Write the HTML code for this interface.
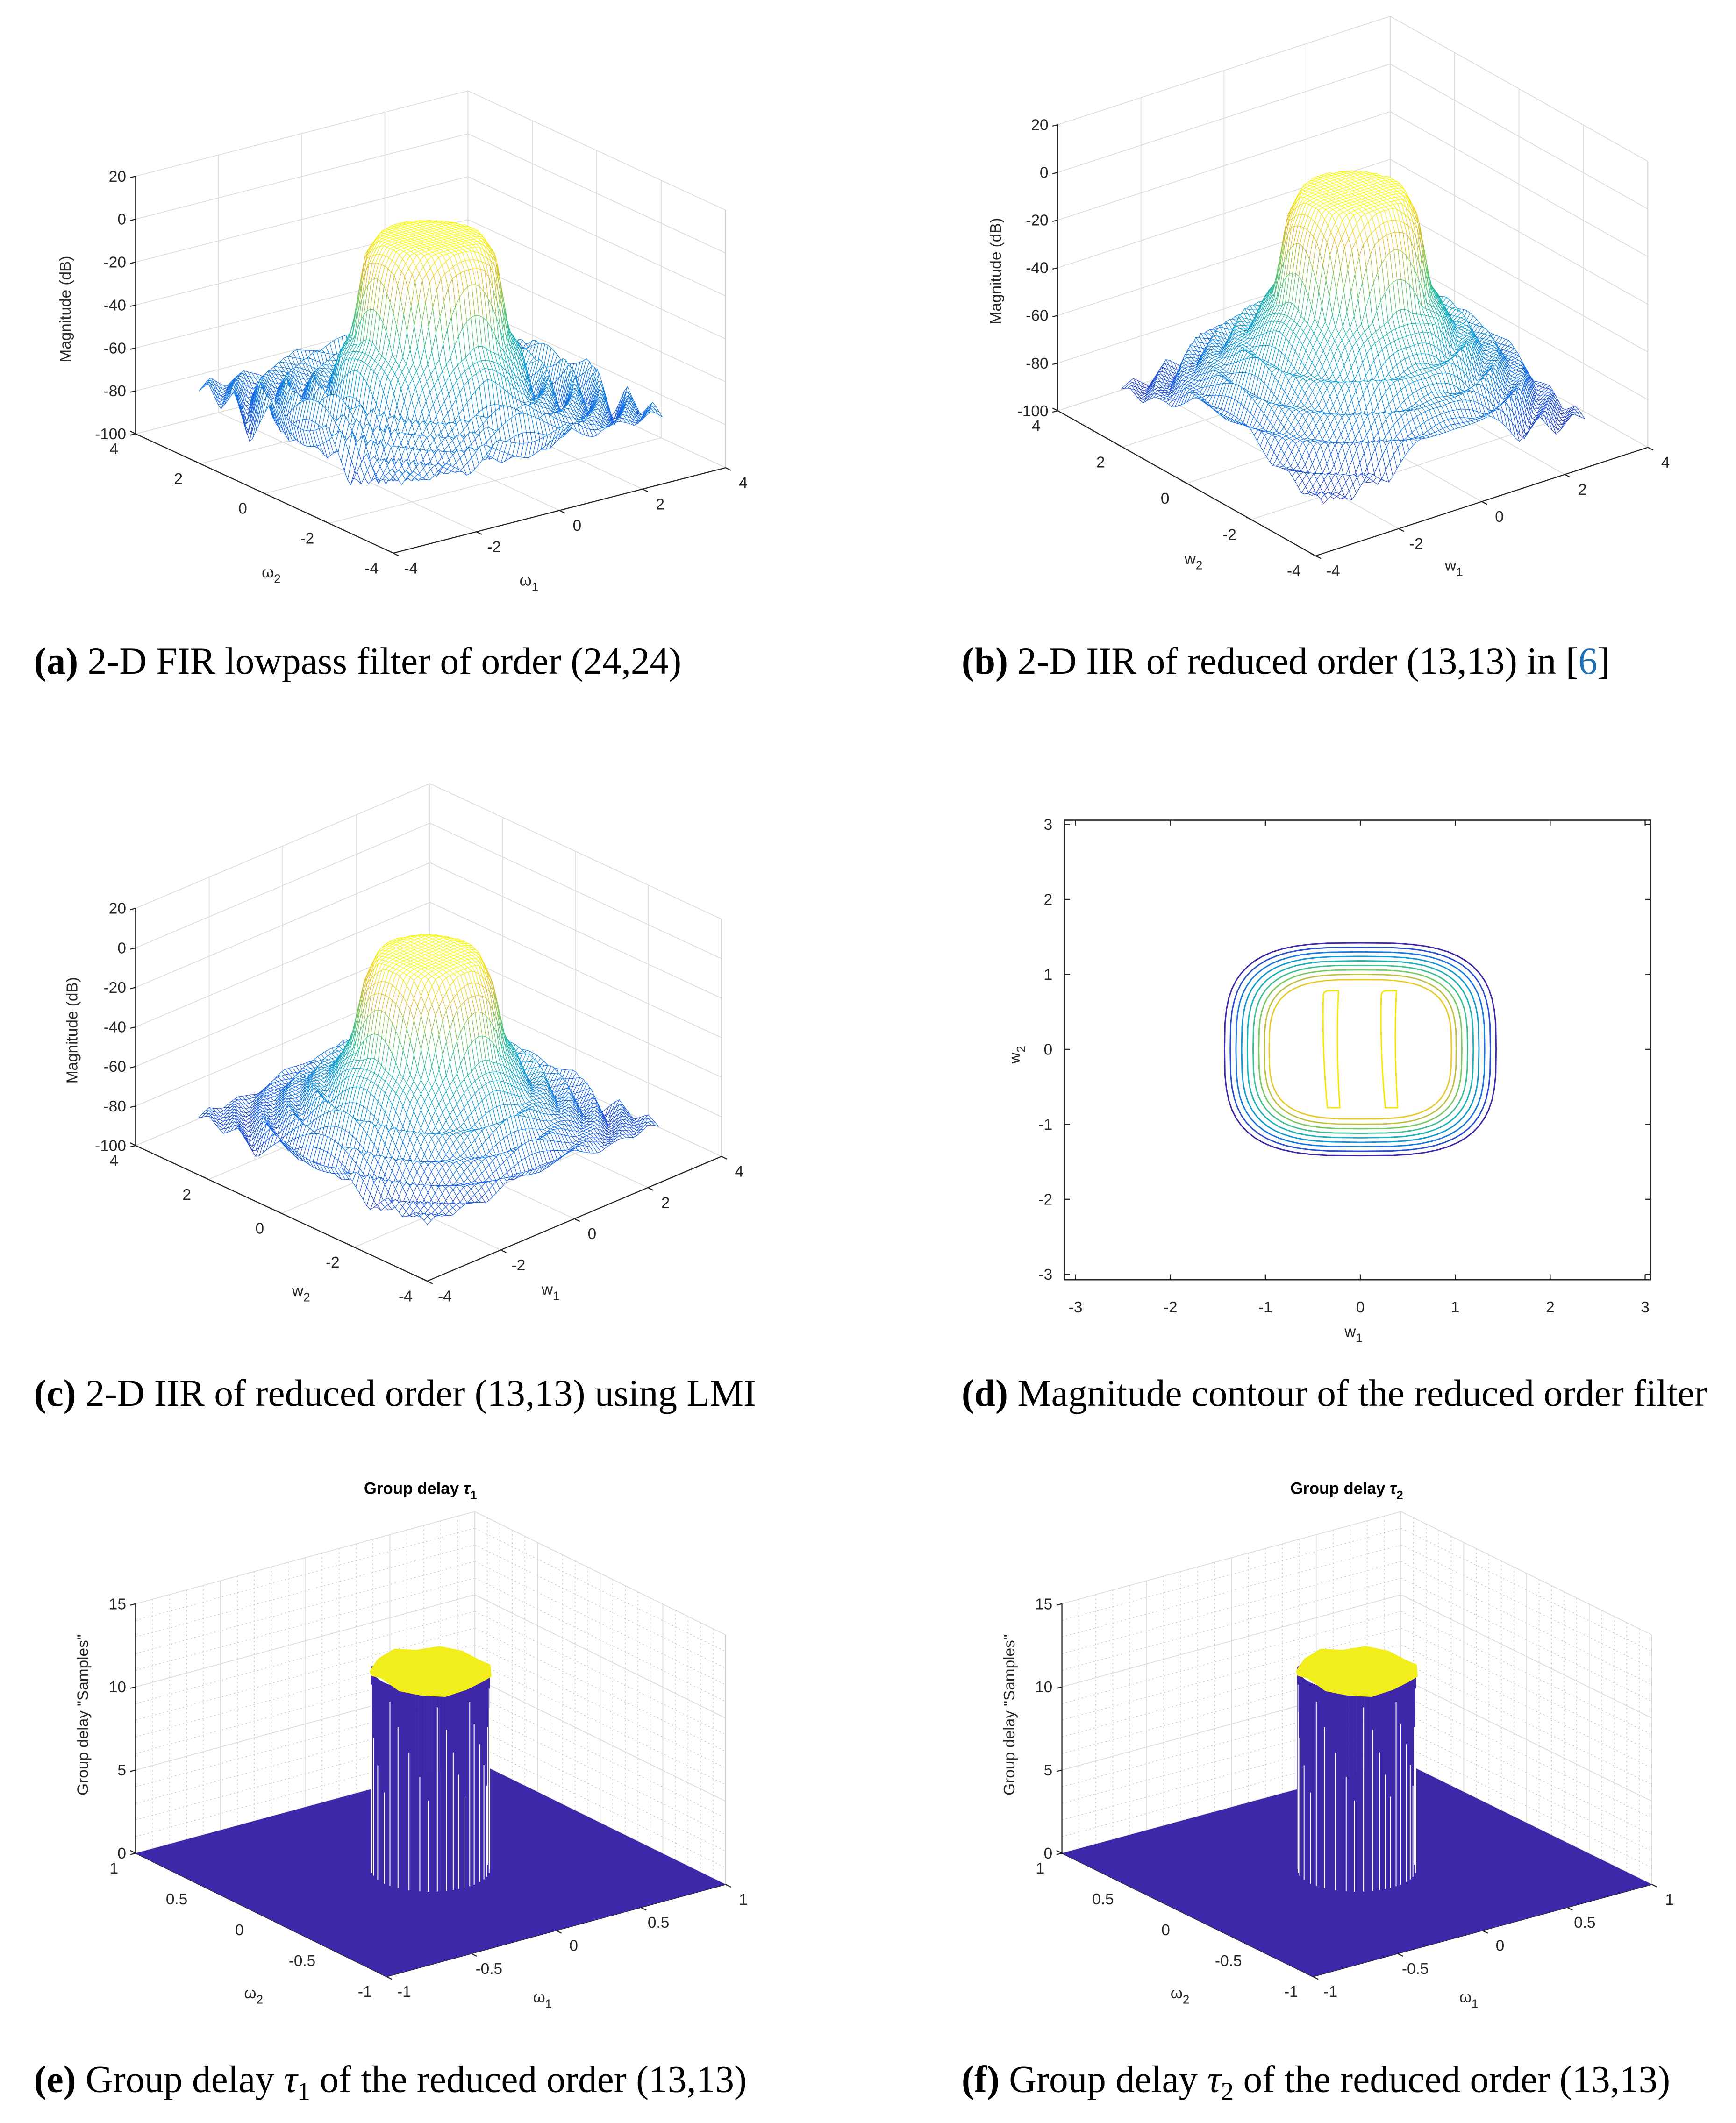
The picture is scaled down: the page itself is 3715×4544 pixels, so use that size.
<!DOCTYPE html>
<html><head><meta charset="utf-8">
<style>
html,body{margin:0;padding:0;background:#fff;}
svg{display:block;}
.tk{font-family:"Liberation Sans",sans-serif;font-size:11.5px;fill:#262626;}
.cap{font-family:"Liberation Serif",serif;font-size:28px;fill:#000;}
</style></head>
<body>
<svg id="fig" xmlns="http://www.w3.org/2000/svg" width="3715" height="4544" viewBox="0 0 1280 1566" preserveAspectRatio="none">
<rect x="0" y="0" width="1280" height="1566" fill="#fff"/>
<text class="cap" x="25" y="497"><tspan font-weight="bold">(a)</tspan> 2-D FIR lowpass filter of order (24,24)</text>
<text class="cap" x="709" y="497"><tspan font-weight="bold">(b)</tspan> 2-D IIR of reduced order (13,13) in [<tspan fill="#1f6fb5">6</tspan>]</text>
<text class="cap" x="25" y="1037"><tspan font-weight="bold">(c)</tspan> 2-D IIR of reduced order (13,13) using LMI</text>
<text class="cap" x="709" y="1037"><tspan font-weight="bold">(d)</tspan>  Magnitude contour of the reduced order filter</text>
<text class="cap" x="25" y="1543"><tspan font-weight="bold">(e)</tspan> Group delay <tspan font-style="italic">τ</tspan><tspan font-size="19" dy="6">1</tspan><tspan dy="-6"> of the reduced order (13,13)</tspan></text>
<text class="cap" x="709" y="1543"><tspan font-weight="bold">(f)</tspan>  Group delay <tspan font-style="italic">τ</tspan><tspan font-size="19" dy="6">2</tspan><tspan dy="-6"> of the reduced order (13,13)</tspan></text>
</svg>
<script>
// ---------- data ----------
const radialStep = 0.25;
const profileA = [0,0,0,0,-1,-10,-45,-62,-68,-70,-72,-72,-74,-75,-75,-76,-76,-76,-76];
const rippleRadA = [0,0,0,0,0,0,0,10,-14,8,-18,9,-12,10,-20,7,-10,6,-8];
const rippleAngA = [1,0.4,-0.6,0.9,-1,0.5,0.8,-0.7,1,0.3,-0.8,0.6];
const profileB = [0,0,0,0,-1,-12,-42,-52,-58,-62,-66,-70,-74,-78,-82,-85,-88,-88,-88];
const rippleRadB = [0,0,0,0,0,0,0,4,-6,5,-8,4,-6,5,-10,3,-6,3,-4];
const rippleAngB = [1,-0.6,0.7,-1,0.9,-0.5,1,-0.7,0.8,-1,0.6,-0.8];
const profileC = [0,0,0,0,-2,-16,-45,-58,-64,-68,-72,-76,-80,-82,-84,-84,-84,-84,-84];
const rippleRadC = [0,0,0,0,0,0,0,5,-8,6,-9,5,-7,6,-10,4,-6,4,-5];
const rippleAngC = [1,0.5,-0.7,0.8,-1,0.6,0.9,-0.6,1,0.4,-0.9,0.5];
const zTicksMag = [20,0,-20,-40,-60,-80,-100];
const wTicksMag = [-4,-2,0,2,4];
const zTicksGD = [0,5,10,15];
const wTicksGD = [-1,-0.5,0,0.5,1];
const gdHeight = 12;
const gdRadius = 0.28;
const gdTopJitter = [0.3,0.5,0.6,0.4,0.7,0.5,0.3,0.6,0.9,0.5,0.4,0.3,0.5,0.6,0.4,0.5];
const gdStripeAngles = [140,150,158,170,182,190,200,212,223,231,240,249,256,262,268,275,281,290,298,305,316,327,338];
const contourA = [1.43,1.37,1.31,1.25,1.19,1.13,1.07,1.01,0.96];
const contourB = [1.42,1.36,1.30,1.24,1.18,1.12,1.06,1.00,0.93];
const contourLevels = [0.0,0.12,0.25,0.37,0.5,0.6,0.7,0.8,0.88];
const innerLobesX = [-0.33,0.28];
const innerLobeHalfH = 0.78;
const contourTicks = [-3,-2,-1,0,1,2,3];

// ---------- helpers ----------
const NS='http://www.w3.org/2000/svg';
const svg=document.getElementById('fig');
function mk(tag,parent){const e=document.createElementNS(NS,tag);(parent||svg).appendChild(e);return e;}
const parStops=[[0,[62,38,168]],[0.2,[25,105,230]],[0.4,[18,160,210]],[0.55,[35,185,170]],[0.7,[120,200,100]],[0.85,[225,188,50]],[1,[249,251,14]]];
function parula(t){t=Math.max(0,Math.min(1,t));for(let i=1;i<parStops.length;i++){if(t<=parStops[i][0]){const a=parStops[i-1],b=parStops[i];const f=(t-a[0])/(b[0]-a[0]);return 'rgb('+a[1].map((v,k)=>Math.round(v+f*(b[1][k]-v))).join(',')+')';}}return 'rgb(249,251,14)';}
function mkProj(P){return (w1,w2,z)=>{const u=(w1-P.wmin)/(P.wmax-P.wmin),v=(w2-P.wmin)/(P.wmax-P.wmin),h=(z-P.zmin)/(P.zmax-P.zmin);return [P.F[0]+u*(P.R[0]-P.F[0])+v*(P.L[0]-P.F[0]),P.F[1]+u*(P.R[1]-P.F[1])+v*(P.L[1]-P.F[1])-h*P.zh];};}
function line(g,a,b,stroke,sw,dash){const l=mk('line',g);l.setAttribute('x1',a[0]);l.setAttribute('y1',a[1]);l.setAttribute('x2',b[0]);l.setAttribute('y2',b[1]);l.setAttribute('stroke',stroke);l.setAttribute('stroke-width',sw);if(dash)l.setAttribute('stroke-dasharray',dash);return l;}
function txt(g,x,y,s,anchor){const t=mk('text',g);t.setAttribute('class','tk');t.setAttribute('x',x);t.setAttribute('y',y);t.setAttribute('text-anchor',anchor||'middle');t.textContent=s;return t;}
function subLabel(g,x,y,base,sub,rot){const t=mk('text',g);t.setAttribute('class','tk');t.setAttribute('x',x);t.setAttribute('y',y);t.setAttribute('text-anchor','middle');if(rot)t.setAttribute('transform','rotate(-90 '+x+' '+y+')');const a=mk('tspan',t);a.textContent=base;const b=mk('tspan',t);b.setAttribute('font-size','9');b.setAttribute('dy','4');b.textContent=sub;return t;}
function interp(arr,x){const k=Math.max(0,Math.min(arr.length-2,Math.floor(x)));const f=Math.max(0,Math.min(1,x-k));return arr[k]+f*(arr[k+1]-arr[k]);}

function axes3d(P,name,zt,wt,minor){
  const p=mkProj(P);const g=mk('g');
  
  
  const W=P.wmax,w0=P.wmin,Z=P.zmax,z0=P.zmin;
  const gc='#dcdcdc';
  if(minor){
    for(let w=w0;w<=W+1e-9;w+=minor.w){line(g,p(w,W,z0),p(w,W,Z),'#c8c8c8',0.5,'1 2');line(g,p(W,w,z0),p(W,w,Z),'#c8c8c8',0.5,'1 2');line(g,p(w,w0,z0),p(w,W,z0),'#c8c8c8',0.5,'1 2');line(g,p(w0,w,z0),p(W,w,z0),'#c8c8c8',0.5,'1 2');}
    for(let z=z0;z<=Z+1e-9;z+=minor.z){line(g,p(w0,W,z),p(W,W,z),'#c8c8c8',0.5,'1 2');line(g,p(W,W,z),p(W,w0,z),'#c8c8c8',0.5,'1 2');}
  }
  wt.forEach(w=>{line(g,p(w,W,z0),p(w,W,Z),gc,0.6);line(g,p(W,w,z0),p(W,w,Z),gc,0.6);line(g,p(w,w0,z0),p(w,W,z0),gc,0.6);line(g,p(w0,w,z0),p(W,w,z0),gc,0.6);});
  zt.forEach(z=>{line(g,p(w0,W,z),p(W,W,z),gc,0.6);line(g,p(W,W,z),p(W,w0,z),gc,0.6);});
  line(g,p(W,w0,z0),p(W,w0,Z),'#d0d0d0',0.6);
  line(g,p(w0,W,z0),p(w0,W,Z),'#262626',0.8);
  line(g,p(w0,W,z0),p(w0,w0,z0),'#262626',0.8);
  line(g,p(w0,w0,z0),p(W,w0,z0),'#262626',0.8);
  zt.forEach(z=>{const a=p(w0,W,z);line(g,a,[a[0]-4,a[1]+1],'#262626',0.8);txt(g,a[0]-7,a[1]+4,String(z),'end');});
  wt.forEach(w=>{const a=p(w0,w,z0);line(g,a,[a[0]-4,a[1]-2],'#262626',0.8);txt(g,a[0]-16,a[1]+15,String(w),'middle');
                 const b=p(w,w0,z0);line(g,b,[b[0]+4,b[1]+2],'#262626',0.8);txt(g,b[0]+13,b[1]+15,String(w),'middle');});
  return p;
}

function surface(P,name,profile,ripRad,ripAng,n){
  const p=mkProj(P);const g=mk('g');
  
  
  const L=Math.PI,N=n;const zs=[];
  for(let i=0;i<=N;i++){zs.push([]);for(let j=0;j<=N;j++){const w1=-L+2*L*i/N,w2=-L+2*L*j/N;const r=Math.hypot(w1,w2);
    let z=interp(profile,r/radialStep);
    const th=(Math.atan2(w2,w1)+Math.PI)/(2*Math.PI)*ripAng.length;
    const ang=interp(ripAng.concat([ripAng[0]]),th);
    z+=interp(ripRad,r/radialStep)*(0.55+0.45*ang);
    zs[i].push(Math.max(-100,Math.min(0,z)));}}
  const cells=[];for(let i=0;i<N;i++)for(let j=0;j<N;j++)cells.push([i,j]);
  cells.sort((a,b)=>(b[0]+b[1])-(a[0]+a[1]));
  cells.forEach(([i,j])=>{const w=k=>-L+2*L*k/N;const pts=[p(w(i),w(j),zs[i][j]),p(w(i+1),w(j),zs[i+1][j]),p(w(i+1),w(j+1),zs[i+1][j+1]),p(w(i),w(j+1),zs[i][j+1])];
    const zav=(zs[i][j]+zs[i+1][j]+zs[i+1][j+1]+zs[i][j+1])/4;
    const q=mk('polygon',g);
    
    
    q.setAttribute('points',pts.map(a=>a[0].toFixed(1)+','+a[1].toFixed(1)).join(' '));q.setAttribute('fill','#fff');q.setAttribute('stroke',parula((zav+100)/100));q.setAttribute('stroke-width','0.4');});
}

// ---------- panels a,b,c ----------
const PA={F:[290,408],R:[535,345],L:[100,320],zh:190,zmin:-100,zmax:20,wmin:-4,wmax:4};
const PB={F:[970,410],R:[1215,330],L:[780,303],zh:211,zmin:-100,zmax:20,wmin:-4,wmax:4};
const PC={F:[315,945],R:[532,853],L:[100,845],zh:175,zmin:-100,zmax:20,wmin:-4,wmax:4};
axes3d(PA,'panel-a',zTicksMag,wTicksMag);surface(PA,'panel-a',profileA,rippleRadA,rippleAngA,64);
axes3d(PB,'panel-b',zTicksMag,wTicksMag);surface(PB,'panel-b',profileB,rippleRadB,rippleAngB,64);
axes3d(PC,'panel-c',zTicksMag,wTicksMag);surface(PC,'panel-c',profileC,rippleRadC,rippleAngC,64);
const magLabels=[[52,228,'ω',200,426,390,432],[738,200,'w',880,416,1072,421],[57,760,'w',222,956,406,955]];
magLabels.forEach(c=>{
  const t=mk('text');t.setAttribute('class','tk');t.setAttribute('x',c[0]);t.setAttribute('y',c[1]);t.setAttribute('text-anchor','middle');t.setAttribute('transform','rotate(-90 '+c[0]+' '+c[1]+')');t.textContent='Magnitude (dB)';
  
  
  const a=subLabel(svg,c[3],c[4],c[2],'2');
  
  
  const b=subLabel(svg,c[5],c[6],c[2],'1');
  
  
});

// ---------- panel d contour ----------
(function(){
  const g=mk('g');
  
  
  const X=w=>1003+w*70,Y=w=>774-w*55.3;
  const r=mk('rect',g);r.setAttribute('x',785);r.setAttribute('y',605);r.setAttribute('width',432);r.setAttribute('height',339);r.setAttribute('fill','none');r.setAttribute('stroke','#262626');r.setAttribute('stroke-width','0.9');
  
  
  contourTicks.forEach(v=>{line(g,[X(v),944],[X(v),940],'#262626',0.8);line(g,[X(v),605],[X(v),609],'#262626',0.8);txt(g,X(v),968,String(v));
    line(g,[785,Y(v)],[789,Y(v)],'#262626',0.8);line(g,[1217,Y(v)],[1213,Y(v)],'#262626',0.8);txt(g,776,Y(v)+4,String(v),'end');});
  contourA.forEach((a,k)=>{const b=contourB[k];
    const pts=[];for(let d=0;d<360;d+=6){const t=d*Math.PI/180;const c=Math.cos(t),s=Math.sin(t);const e=2/3.2;pts.push([a*Math.sign(c)*Math.pow(Math.abs(c),e),b*Math.sign(s)*Math.pow(Math.abs(s),e)]);}
    const pl=mk('polygon',g);
    
    
    pl.setAttribute('points',pts.map(q=>X(q[0]).toFixed(1)+','+Y(q[1]).toFixed(1)).join(' '));pl.setAttribute('fill','none');pl.setAttribute('stroke',parula(contourLevels[k]));pl.setAttribute('stroke-width','1');});
  innerLobesX.forEach(x=>{const pl=mk('path',g);
    
    
    const x0=X(x-0.06),x1=X(x+0.1),yt=Y(innerLobeHalfH),yb=Y(-innerLobeHalfH);
    pl.setAttribute('d','M'+x0+' '+(yt+4)+' Q'+x0+' '+yt+' '+(x0+4)+' '+yt+' L'+x1+' '+yt+' Q'+(x1-2)+' '+774+' '+(x1+1)+' '+yb+' L'+(x0+3)+' '+yb+' Q'+(x0-1)+' '+774+' '+x0+' '+(yt+4)+'Z');
    pl.setAttribute('fill','none');pl.setAttribute('stroke','#f5e60c');pl.setAttribute('stroke-width','1');});
  const a=subLabel(g,752,778,'w','2',true);
  
  
  const b=subLabel(g,998,986,'w','1');
  
  
})();

// ---------- panels e,f group delay ----------
function gdPanel(dx,name,sub){
  const P={F:[285+dx,1458],R:[535+dx,1390],L:[100+dx,1367],zh:184,zmin:0,zmax:15,wmin:-1,wmax:1};
  const p=axes3d(P,name,zTicksGD,wTicksGD,{w:0.1,z:1});
  const g=mk('g');
  
  
  const fl=mk('polygon',g);
  
  
  fl.setAttribute('points',[p(-1,-1,0),p(1,-1,0),p(1,1,0),p(-1,1,0)].map(a=>a.join(',')).join(' '));fl.setAttribute('fill','#3e27a8');
  for(let d=135;d<=315;d+=1.5){const t=d*Math.PI/180;const a=p(Math.cos(t)*gdRadius,Math.sin(t)*gdRadius,0),b=p(Math.cos(t)*gdRadius,Math.sin(t)*gdRadius,gdHeight);const l=line(g,a,b,'#3e27a8',1.2);
    }
  gdStripeAngles.forEach((d,k)=>{const t=d*Math.PI/180;const a=p(Math.cos(t)*gdRadius,Math.sin(t)*gdRadius,0),b=p(Math.cos(t)*gdRadius,Math.sin(t)*gdRadius,gdHeight-1-(k%5)*1.4);const l=line(g,[a[0],a[1]+1],b,'#ffffff',0.7);
    });
  const body=[];for(let d=0;d<360;d+=22.5){const t=d*Math.PI/180;body.push([Math.cos(t)*gdRadius*1.02,Math.sin(t)*gdRadius*1.02]);}
  const top=mk('polygon',g);
  
  
  top.setAttribute('points',body.map((q,k)=>{const a=p(q[0],q[1],gdHeight-0.6+gdTopJitter[k%gdTopJitter.length]);return a[0].toFixed(1)+','+a[1].toFixed(1);}).join(' '));top.setAttribute('fill','#f2ee1c');top.setAttribute('stroke','#f2ee1c');top.setAttribute('stroke-width','2');top.setAttribute('stroke-linejoin','round');
  const tt=mk('text');tt.setAttribute('x',310+dx);tt.setAttribute('y',1102);tt.setAttribute('text-anchor','middle');tt.setAttribute('font-family','"Liberation Sans",sans-serif');tt.setAttribute('font-size','12');tt.setAttribute('font-weight','bold');
  
  
  const t1=mk('tspan',tt);t1.textContent='Group delay ';const t2=mk('tspan',tt);t2.setAttribute('font-style','italic');t2.textContent='τ';const t3=mk('tspan',tt);t3.setAttribute('font-size','9');t3.setAttribute('dy','4');t3.textContent=sub;
  const yl=mk('text');yl.setAttribute('class','tk');yl.setAttribute('x',65+dx);yl.setAttribute('y',1265);yl.setAttribute('text-anchor','middle');yl.setAttribute('transform','rotate(-90 '+(65+dx)+' 1265)');yl.textContent='Group delay "Samples"';
  
  
  const a=subLabel(svg,187+dx,1474,'ω','2');
  
  
  const b=subLabel(svg,400+dx,1477,'ω','1');
  
  
}
gdPanel(0,'panel-e','1');
gdPanel(683,'panel-f','2');
</script>
</body></html>
